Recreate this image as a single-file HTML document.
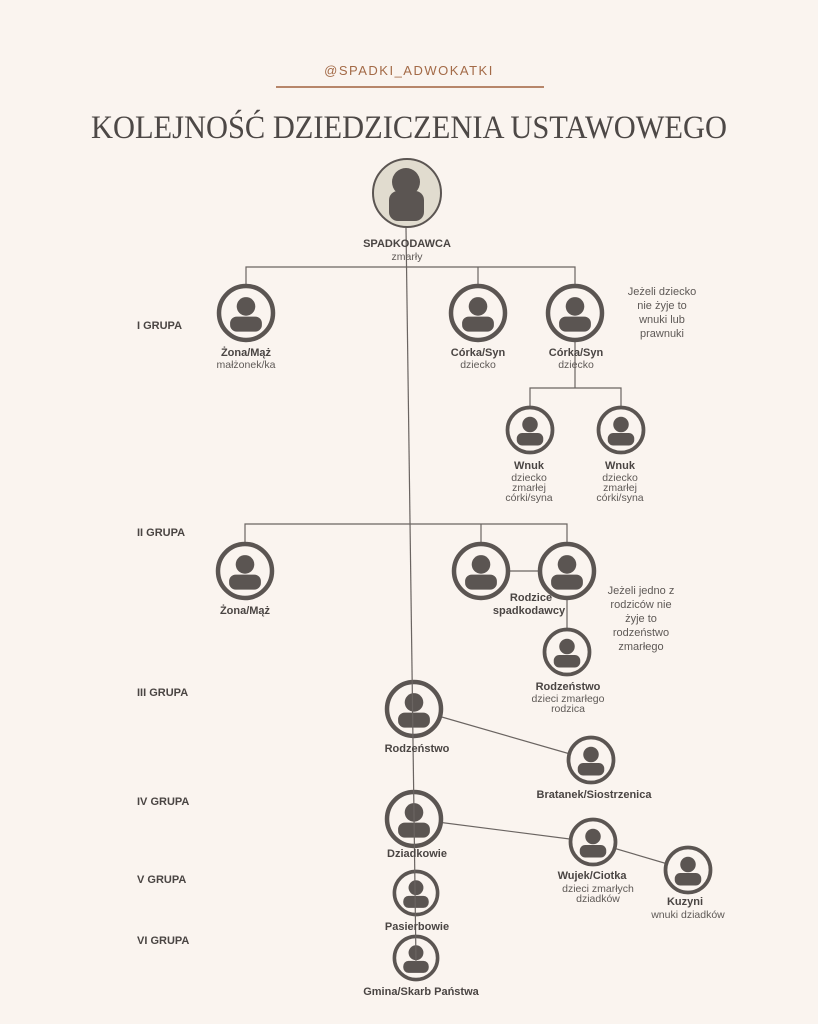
<!DOCTYPE html>
<html><head><meta charset="utf-8"><style>
body{margin:0;background:#faf4ef;}
svg{display:block}
text{font-family:"Liberation Sans",sans-serif;fill:#555}
.b{font-weight:bold;font-size:11px;fill:#4a4543}
.s{font-size:10.5px;fill:#5e5956}
.n{font-size:11px;fill:#5e5956}
.g{font-weight:bold;font-size:11px;fill:#4a4543}
</style></head><body>
<svg width="818" height="1024" viewBox="0 0 818 1024">
<defs>
<symbol id="p" viewBox="-1 -1 2 2">
<circle cx="0" cy="0" r="0.9" fill="none" stroke="#5b5552" stroke-width="0.15"/>
<circle cx="0" cy="-0.22" r="0.31" fill="#5b5552"/>
<rect x="-0.53" y="0.12" width="1.06" height="0.5" rx="0.22" fill="#5b5552"/>
</symbol>
</defs>
<rect width="818" height="1024" fill="#faf4ef"/>
<text x="409" y="75" text-anchor="middle" style="font-size:13px;letter-spacing:1.5px;fill:#a36a47">@SPADKI_ADWOKATKI</text>
<line x1="276" y1="87" x2="544" y2="87" stroke="#b7866a" stroke-width="2"/>
<text x="409" y="138" text-anchor="middle" textLength="636" lengthAdjust="spacingAndGlyphs" style="font-family:'Liberation Serif',serif;font-size:33px;fill:#4d4846">KOLEJNOŚĆ DZIEDZICZENIA USTAWOWEGO</text>
<g stroke="#6a6461" stroke-width="1.2" fill="none">
<polyline points="246,286 246,267 575,267 575,286"/>
<line x1="478" y1="267" x2="478" y2="286"/>
<line x1="575" y1="341" x2="575" y2="388"/>
<polyline points="530,407 530,388 621,388 621,407"/>
<polyline points="245,544 245,524 567,524 567,544"/>
<line x1="481" y1="524" x2="481" y2="544"/>
<line x1="508" y1="571" x2="540" y2="571"/>
<line x1="567" y1="598" x2="567" y2="629"/>
<line x1="414" y1="709" x2="591" y2="760"/>
<polyline points="414,819 593,842 688,870"/>
</g>
<circle cx="407" cy="193" r="34" fill="#e1dccf" stroke="#5b5552" stroke-width="2"/>
<circle cx="406" cy="182" r="14" fill="#5b5552"/>
<rect x="389" y="191" width="35" height="30" rx="9" fill="#5b5552"/>
<g fill="#faf4ef">
<circle cx="246" cy="313" r="27"/><circle cx="478" cy="313" r="27"/><circle cx="575" cy="313" r="27"/>
<circle cx="530" cy="430" r="23"/><circle cx="621" cy="430" r="23"/>
<circle cx="245" cy="571" r="27"/><circle cx="481" cy="571" r="27"/><circle cx="567" cy="571" r="27"/>
<circle cx="567" cy="652" r="23"/><circle cx="414" cy="709" r="27"/><circle cx="591" cy="760" r="23"/>
<circle cx="414" cy="819" r="27"/><circle cx="593" cy="842" r="23"/><circle cx="688" cy="870" r="23"/>
<circle cx="416" cy="893" r="22"/><circle cx="416" cy="958" r="22"/>
</g>
<use href="#p" x="216" y="283" width="60" height="60"/>
<use href="#p" x="448" y="283" width="60" height="60"/>
<use href="#p" x="545" y="283" width="60" height="60"/>
<use href="#p" x="505" y="405" width="50" height="50"/>
<use href="#p" x="596" y="405" width="50" height="50"/>
<use href="#p" x="215" y="541" width="60" height="60"/>
<use href="#p" x="451" y="541" width="60" height="60"/>
<use href="#p" x="537" y="541" width="60" height="60"/>
<use href="#p" x="542" y="627" width="50" height="50"/>
<use href="#p" x="384" y="679" width="60" height="60"/>
<use href="#p" x="566" y="735" width="50" height="50"/>
<use href="#p" x="384" y="789" width="60" height="60"/>
<use href="#p" x="568" y="817" width="50" height="50"/>
<use href="#p" x="663" y="845" width="50" height="50"/>
<use href="#p" x="392" y="869" width="48" height="48"/>
<use href="#p" x="392" y="934" width="48" height="48"/>
<line x1="406" y1="228" x2="416" y2="962" stroke="#6a6461" stroke-width="1.2"/>
<g text-anchor="middle">
<text class="b" x="407" y="247">SPADKODAWCA</text><text class="s" x="407" y="260">zmarły</text>
<text class="b" x="246" y="356">Żona/Mąż</text><text class="s" x="246" y="368">małżonek/ka</text>
<text class="b" x="478" y="356">Córka/Syn</text><text class="s" x="478" y="368">dziecko</text>
<text class="b" x="576" y="356">Córka/Syn</text><text class="s" x="576" y="368">dziecko</text>
<text class="n" x="662" y="295">Jeżeli dziecko</text><text class="n" x="662" y="309">nie żyje to</text><text class="n" x="662" y="323">wnuki lub</text><text class="n" x="662" y="337">prawnuki</text>
<text class="b" x="529" y="469">Wnuk</text><text class="s" x="529" y="481">dziecko</text><text class="s" x="529" y="491">zmarłej</text><text class="s" x="529" y="501">córki/syna</text>
<text class="b" x="620" y="469">Wnuk</text><text class="s" x="620" y="481">dziecko</text><text class="s" x="620" y="491">zmarłej</text><text class="s" x="620" y="501">córki/syna</text>
<text class="b" x="245" y="614">Żona/Mąż</text>
<text class="b" x="531" y="601">Rodzice</text><text class="b" x="529" y="614">spadkodawcy</text>
<text class="n" x="641" y="594">Jeżeli jedno z</text><text class="n" x="641" y="608">rodziców nie</text><text class="n" x="641" y="622">żyje to</text><text class="n" x="641" y="636">rodzeństwo</text><text class="n" x="641" y="650">zmarłego</text>
<text class="b" x="568" y="690">Rodzeństwo</text><text class="s" x="568" y="702">dzieci zmarłego</text><text class="s" x="568" y="712">rodzica</text>
<text class="b" x="417" y="752">Rodzeństwo</text>
<text class="b" x="594" y="798">Bratanek/Siostrzenica</text>
<text class="b" x="417" y="857">Dziadkowie</text>
<text class="b" x="592" y="879">Wujek/Ciotka</text><text class="s" x="598" y="892">dzieci zmarłych</text><text class="s" x="598" y="902">dziadków</text>
<text class="b" x="685" y="905">Kuzyni</text><text class="s" x="688" y="918">wnuki dziadków</text>
<text class="b" x="417" y="930">Pasierbowie</text>
<text class="b" x="421" y="995">Gmina/Skarb Państwa</text>
</g>
<text class="g" x="137" y="329">I GRUPA</text>
<text class="g" x="137" y="536">II GRUPA</text>
<text class="g" x="137" y="696">III GRUPA</text>
<text class="g" x="137" y="805">IV GRUPA</text>
<text class="g" x="137" y="883">V GRUPA</text>
<text class="g" x="137" y="944">VI GRUPA</text>
</svg>
</body></html>
